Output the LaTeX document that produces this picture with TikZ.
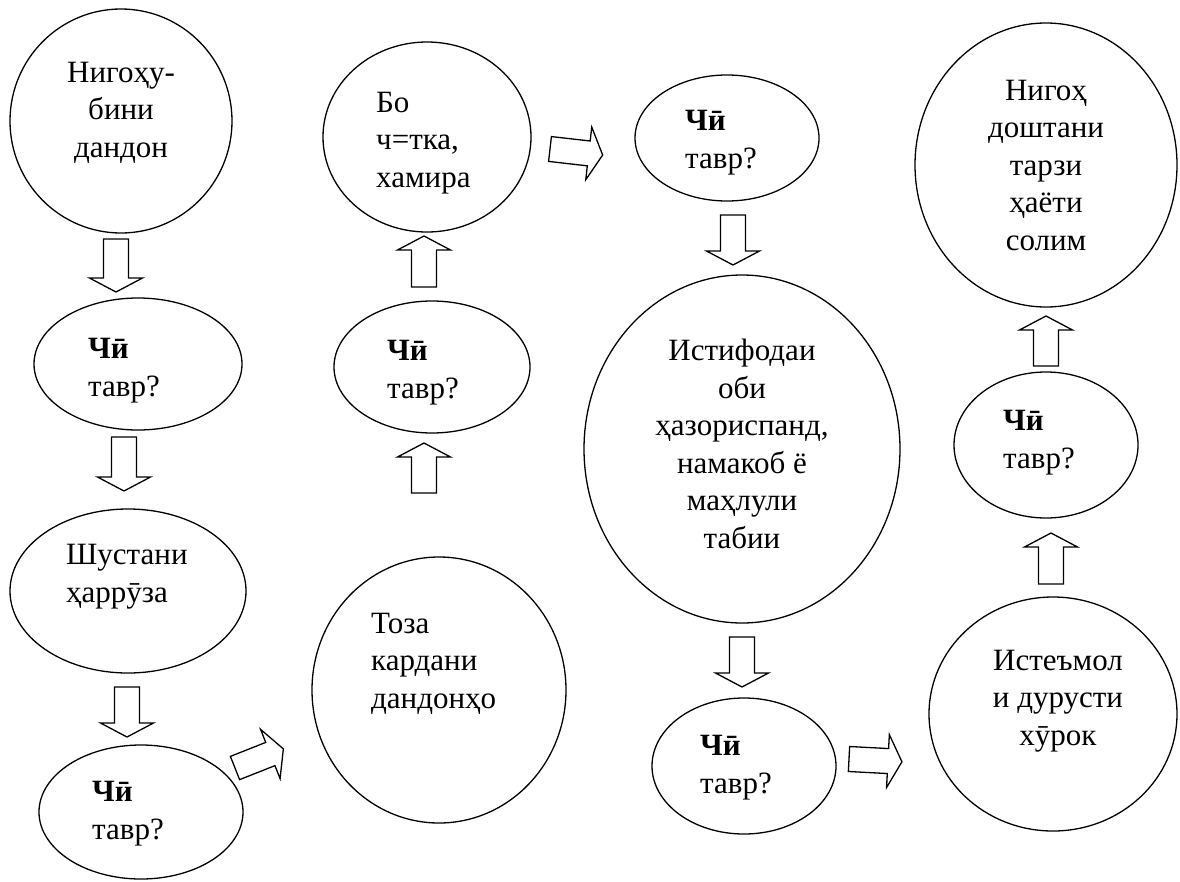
\documentclass[tikz,border=0pt]{standalone}
\usepackage{fontspec}
\setmainfont{Liberation Serif}
\usetikzlibrary{shapes.geometric}

% block arrow: tail point, direction angle, length
\newcommand{\blockarrow}[3]{%
  \begin{scope}[shift={(#1)}, rotate=#2]
    \draw[arrline] (0pt,-12.5pt) -- ({#3pt-14pt},-12.5pt) -- ({#3pt-14pt},-26.5pt) -- (#3pt,0pt)
      -- ({#3pt-14pt},26.5pt) -- ({#3pt-14pt},12.5pt) -- (0pt,12.5pt) -- cycle;
  \end{scope}}

\begin{document}
\begin{tikzpicture}[x=1pt, y=-1pt,
  bubble/.style={shape=ellipse, draw=black, line width=1.3pt, inner sep=0pt},
  arrline/.style={draw=black, line width=1.3pt, fill=white, line join=miter},
  txt/.style={font=\fontsize{31}{37.5}\selectfont, inner sep=0pt}]
\useasboundingbox (0,0) rectangle (1180,881);
% column 1
\node[bubble, minimum width=222pt, minimum height=224pt] (e1) at (121,121) {};
\node[bubble, minimum width=208pt, minimum height=132pt] (e2) at (138,364) {};
\node[bubble, minimum width=236pt, minimum height=164pt] (e3) at (128,591) {};
\node[bubble, minimum width=204pt, minimum height=134pt] (e4) at (141,812) {};
% column 2
\node[bubble, minimum width=208pt, minimum height=190pt] (e5) at (427,137) {};
\node[bubble, minimum width=196pt, minimum height=132pt] (e6) at (432,367) {};
\node[bubble, minimum width=254pt, minimum height=266pt] (e7) at (439,690) {};
% column 3
\node[bubble, minimum width=184pt, minimum height=126pt] (e8) at (727,138) {};
\node[bubble, minimum width=316pt, minimum height=348pt] (e9) at (742,449) {};
\node[bubble, minimum width=184pt, minimum height=136pt] (e10) at (744,766) {};
% column 4
\node[bubble, minimum width=262pt, minimum height=284pt] (e11) at (1046,165) {};
\node[bubble, minimum width=184pt, minimum height=146pt] (e12) at (1046,445) {};
\node[bubble, minimum width=248pt, minimum height=234pt] (e13) at (1053,714) {};

% texts, placed by the baseline of their last line
\node[txt, align=center, anchor=base] (t1) at (121,157) {Нигоҳу-\\бини\\дандон};
\node[txt, align=left, anchor=base west] (t2) at (88,396) {\textbf{Чӣ}\\тавр?};
\node[txt, align=left, anchor=base west] (t3) at (66,602) {Шустани\\ҳаррӯза};
\node[txt, align=left, anchor=base west] (t4) at (92,839) {\textbf{Чӣ}\\тавр?};
\node[txt, align=left, anchor=base west] (t5) at (376,187) {Бо\\ч=тка,\\хамира};
\node[txt, align=left, anchor=base west] (t6) at (387,398) {\textbf{Чӣ}\\тавр?};
\node[txt, align=left, anchor=base west] (t7) at (371,708) {Тоза\\кардани\\дандонҳо};
\node[txt, align=left, anchor=base west] (t8) at (685,168) {\textbf{Чӣ}\\тавр?};
\node[txt, align=center, anchor=base] (t9) at (742,548) {Истифодаи\\оби\\ҳазориспанд,\\намакоб ё\\маҳлули\\табии};
\node[txt, align=left, anchor=base west] (t10) at (700,793) {\textbf{Чӣ}\\тавр?};
\node[txt, align=center, anchor=base] (t11) at (1046,250) {Нигоҳ\\доштани\\тарзи\\ҳаёти\\солим};
\node[txt, align=left, anchor=base west] (t12) at (1003,468) {\textbf{Чӣ}\\тавр?};
\node[txt, align=center, anchor=base] (t13) at (1058,745) {Истеъмол\\и дурусти\\хӯрок};

% arrow tails
\coordinate (a1) at (116,239);
\coordinate (a2) at (124,437);
\coordinate (a3) at (127,687);
\coordinate (a4) at (235,768);
\coordinate (a5) at (424,493);
\coordinate (a6) at (424,287);
\coordinate (a7) at (550,149);
\coordinate (a8) at (733,215);
\coordinate (a9) at (742,637);
\coordinate (a10) at (849,759);
\coordinate (a11) at (1051,584);
\coordinate (a12) at (1046,366);
\blockarrow{a1}{-90}{53}
\blockarrow{a2}{-90}{54}
\blockarrow{a3}{-90}{50}
\blockarrow{a4}{21.6}{52}
\blockarrow{a5}{90}{50}
\blockarrow{a6}{90}{51}
\blockarrow{a7}{-6.5}{53}
\blockarrow{a8}{-90}{50}
\blockarrow{a9}{-90}{50}
\blockarrow{a10}{-3}{53}
\blockarrow{a11}{90}{51}
\blockarrow{a12}{90}{50}
\end{tikzpicture}
\end{document}
